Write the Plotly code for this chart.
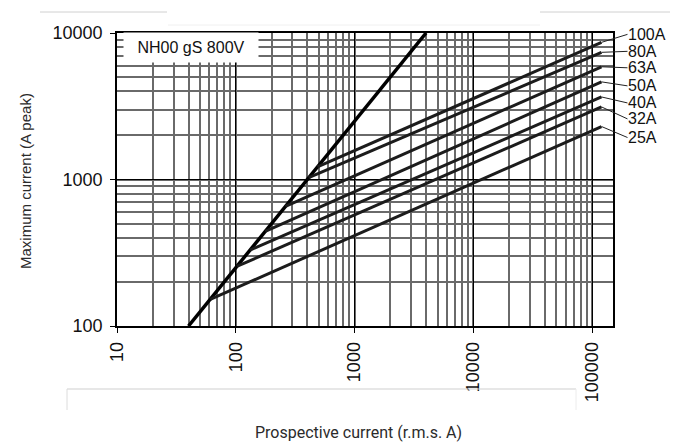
import math
import plotly.graph_objects as go

# ---- data ----
limit_x = [40, 4000]          # prospective current (A rms) of unlimited peak line
limit_y = [100, 10000]        # peak current (A)

ratings = ["25A", "32A", "40A", "50A", "63A", "80A", "100A"]
start_x = [61, 102, 132, 177, 262, 411, 487]
start_y = [152, 255, 330, 443, 655, 1028, 1218]
end_x = [120000, 120000, 120000, 120000, 120000, 120000, 120000]
end_y = [2300, 3130, 3660, 4640, 5880, 7380, 8630]

x_tickvals = [10, 100, 1000, 10000, 100000]
x_ticktext = ["10", "100", "1000", "10000", "100000"]
y_tickvals = [100, 1000, 10000]
y_ticktext = ["100", "1000", "10000"]

chart_label = "NH00 gS 800V"
x_title = "Prospective current (r.m.s. A)"
y_title = "Maximum current (A peak)"

# ---- layout constants (screen pixels of the 678x442 window) ----
OFF = 8                       # page body margin
SW, SH = 678, 442
PL, PR, PT, PB = 117, 613, 33, 326   # plot area on screen
W, H = SW - OFF, SH - OFF
L, T = PL - OFF, PT - OFF
R, B = SW - PR, SH - PB
label_dy = [11, 12, 6, 4, 1, -1, -8]   # pixel offsets of rating labels

def px(xs):
    return (xs - PL) / (PR - PL)

def py(ys):
    return (PB - ys) / (PB - PT)

fig = go.Figure()

fig.add_trace(go.Scatter(x=limit_x, y=limit_y, mode="lines",
                         line=dict(color="#000000", width=3.5),
                         showlegend=False, hoverinfo="skip"))
for i, r in enumerate(ratings):
    fig.add_trace(go.Scatter(x=[start_x[i], end_x[i]], y=[start_y[i], end_y[i]],
                             mode="lines", line=dict(color="#1c1c1c", width=3),
                             name=r, showlegend=False))

annotations = []
for i, r in enumerate(ratings):
    annotations.append(dict(
        x=math.log10(end_x[i]), y=math.log10(end_y[i]), xref="x", yref="y",
        text=r, showarrow=True, arrowhead=0, arrowwidth=1, arrowcolor="#222",
        ax=26, ay=label_dy[i], xanchor="left", yanchor="middle",
        font=dict(family="Liberation Sans, Arial", size=16, color="#111"),
        standoff=0, startstandoff=0, borderpad=0))

annotations.append(dict(
    x=px(191), y=py(47.5), xref="paper", yref="paper", text=chart_label,
    showarrow=False, bgcolor="white", width=134, height=29, borderpad=0,
    font=dict(family="Liberation Sans, Arial", size=16, color="#111"),
    xanchor="center", yanchor="middle"))

annotations.append(dict(
    x=px(358), y=py(432), xref="paper", yref="paper", text=x_title,
    showarrow=False, xanchor="center", yanchor="middle",
    font=dict(family="Roboto", size=16, color="#2b2b2b")))
annotations.append(dict(
    x=px(25), y=py(181), xref="paper", yref="paper", text=y_title,
    showarrow=False, textangle=-90, xanchor="center", yanchor="middle",
    font=dict(family="Liberation Sans, Arial", size=15, color="#2b2b2b")))

shapes = []
deco = [
    (40, 12, 167, 12, "#d0d0d0"),
    (540, 12, 678, 12, "#d0d0d0"),
    (168, 25, 540, 25, "#f0f0f0"),
    (67, 389, 576, 389, "#cfcfcf"),
    (67, 389, 67, 410, "#dcdcdc"),
    (576, 389, 576, 410, "#ececec"),
]
for x0, y0, x1, y1, c in deco:
    shapes.append(dict(type="line", xref="paper", yref="paper",
                       x0=px(x0), y0=py(y0), x1=px(x1), y1=py(y1),
                       line=dict(color=c, width=1), layer="above"))

axis_common = dict(
    type="log", showline=True, mirror=True, linecolor="#000", linewidth=1.8,
    showgrid=True, gridcolor="#000", gridwidth=1.1,
    ticks="outside", ticklen=5, tickcolor="#000", tickwidth=1,
    tickfont=dict(family="Liberation Sans, Arial", size=18, color="#111"),
    zeroline=False, tickmode="array",
    minor=dict(dtick="D1", showgrid=True, gridcolor="#6a6a6a", gridwidth=1.5,
               ticks=""),
)

fig.update_layout(
    width=W, height=H,
    margin=dict(l=L, r=R, t=T, b=B, autoexpand=False),
    paper_bgcolor="white", plot_bgcolor="white",
    xaxis=dict(axis_common, range=[1, math.log10(150000)],
               tickvals=x_tickvals, ticktext=x_ticktext, tickangle=-90,
               ticklabelstandoff=2),
    yaxis=dict(axis_common, range=[2, 4],
               tickvals=y_tickvals, ticktext=y_ticktext,
               ticklabelstandoff=4),
    annotations=annotations, shapes=shapes,
)

fig.write_html("out.html")
